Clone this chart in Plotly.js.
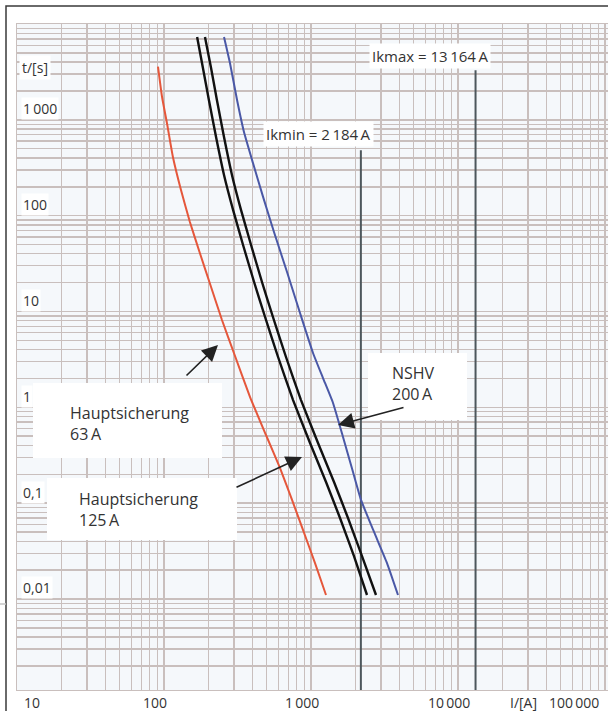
<!DOCTYPE html>
<html>
<head>
<meta charset="utf-8">
<script src="https://cdn.plot.ly/plotly-3.0.1.min.js"></script>
<style>
  html, body { margin: 0; padding: 0; background: #ffffff; }
  #chart { width: 608px; height: 711px; }
</style>
</head>
<body>
<div id="chart"></div>
<script>
// Time-current characteristics of the fuses (current in A, melting time in s)
const fuse63Current = [91, 97, 105, 115, 130.5, 150, 176, 209, 248, 299, 385, 494, 615, 743, 882, 1065, 1265];
const fuse63Time    = [3600, 1730, 905, 409, 185, 86, 40, 18, 8.15, 3.69, 1.28, 0.514, 0.233, 0.108, 0.0525, 0.0237, 0.011];

const fuse125aCurrent = [168, 184, 202, 226, 256, 295, 345, 410, 487, 597, 755, 985, 1265, 1575, 1961, 2404];
const fuse125aTime    = [7320, 3475, 1610, 662, 266, 115, 49.4, 20.3, 8.76, 3.35, 1.19, 0.424, 0.166, 0.070, 0.028, 0.011];

const fuse125bCurrent = [190, 209, 229, 256, 290, 334, 391, 464, 551, 676, 855, 1116, 1434, 1785, 2223, 2768];
const fuse125bTime    = [7320, 3475, 1610, 662, 266, 115, 49.4, 20.3, 8.76, 3.35, 1.19, 0.424, 0.166, 0.070, 0.028, 0.011];

const nshvCurrent = [256, 281, 314, 350, 403, 472, 560, 687, 842, 1032, 1207, 1412, 1651, 1931, 2188, 2684, 3289, 3907];
const nshvTime    = [7320, 3917, 1610, 747, 354, 157, 67.5, 25.8, 9.64, 3.69, 2.02, 1.11, 0.49, 0.211, 0.108, 0.05, 0.0237, 0.011];

// Short-circuit currents and the time where their marker lines begin
const shortCircuitNames = ['Ikmin', 'Ikmax'];
const shortCircuitCurrent = [2184, 13164];
const shortCircuitLineTop = [480, 3300];

// Axis labels
const xTickValues = [10, 100, 1000, 10000, 100000];
const xTickText = ['10', '100', '1\u2009000', '10\u2009000', '100\u2009000'];
const yTickValues = [1000, 100, 10, 1, 0.1, 0.01];
const yTickText = ['1\u2009000', '100', '10', '1', '0,1', '0,01'];

// Plot area geometry (px)
const L = 17, T = 24, W = 591, H = 666;
const px = x => (x - L) / W;
const py = y => (T + H - y) / H;

const FONT = 'Open Sans, Noto Sans, sans-serif';
const TXT = '#333333';
const GRID = '#c9bfbd';

function fmt(n) {
  return String(n).replace(/\B(?=(\d{3})+(?!\d))/g, '\u2009');
}

const traces = [];
shortCircuitCurrent.forEach((c, i) => {
  traces.push({
    x: [c, c], y: [shortCircuitLineTop[i], 0.0005],
    mode: 'lines', line: { color: '#4d575c', width: 2 },
    hoverinfo: 'skip', showlegend: false
  });
});
const curveLine = (color, width) => ({ color: color, width: width, shape: 'spline', smoothing: 0.4 });
traces.push({ x: fuse63Current, y: fuse63Time, mode: 'lines', line: curveLine('#e5573b', 2), showlegend: false });
traces.push({ x: fuse125aCurrent, y: fuse125aTime, mode: 'lines', line: curveLine('#111111', 2.4), showlegend: false });
traces.push({ x: fuse125bCurrent, y: fuse125bTime, mode: 'lines', line: curveLine('#111111', 2.4), showlegend: false });
traces.push({ x: nshvCurrent, y: nshvTime, mode: 'lines', line: curveLine('#4a58a6', 2), showlegend: false });

const annotations = [];

// x tick labels
xTickValues.forEach((v, i) => {
  const last = i === xTickValues.length - 1;
  annotations.push({
    x: Math.log10(v), xref: 'x', y: 0, yref: 'paper',
    text: xTickText[i], showarrow: false,
    xanchor: i === 0 ? 'left' : (last ? 'right' : 'center'),
    xshift: i === 0 ? 5 : (last ? -4 : -9),
    yanchor: 'middle', yshift: -12,
    font: { family: FONT, size: 14, color: TXT }
  });
});
annotations.push({ x: px(523), xref: 'paper', xanchor: 'center', y: 0, yref: 'paper', yanchor: 'middle', yshift: -12,
  text: 'I/[A]', showarrow: false, font: { family: FONT, size: 14, color: TXT } });

// y tick labels
yTickValues.forEach((v, i) => {
  annotations.push({
    x: px(21), xref: 'paper', xanchor: 'left',
    y: Math.log10(v), yref: 'y', yanchor: 'middle', yshift: 11,
    text: yTickText[i], showarrow: false, bgcolor: '#ffffff', borderpad: 1,
    font: { family: FONT, size: 14, color: TXT }
  });
});
annotations.push({ x: px(19), xref: 'paper', xanchor: 'left', y: py(67), yref: 'paper', yanchor: 'middle',
  text: 't/[s]', showarrow: false, bgcolor: '#ffffff', borderpad: 2,
  font: { family: FONT, size: 14, color: TXT } });

// short-circuit labels
const ikLabelPos = [[318, 134], [430, 56]];
shortCircuitCurrent.forEach((c, i) => {
  annotations.push({
    x: px(ikLabelPos[i][0]), xref: 'paper', xanchor: 'center',
    y: py(ikLabelPos[i][1]), yref: 'paper', yanchor: 'middle',
    text: shortCircuitNames[i] + ' = ' + fmt(c) + '\u2009A', showarrow: false,
    bgcolor: '#ffffff', borderpad: 2,
    font: { family: FONT, size: 15, color: TXT }
  });
});

// curve labels
const curveLabels = [
  { text: 'Hauptsicherung<br>63\u2009A', x: 68, y: 423 },
  { text: 'Hauptsicherung<br>125\u2009A', x: 77, y: 509 },
  { text: 'NSHV<br>200\u2009A', x: 390, y: 383 }
];
curveLabels.forEach(c => {
  annotations.push({ x: px(c.x), xref: 'paper', xanchor: 'left', y: py(c.y), yref: 'paper', yanchor: 'middle',
    align: 'left', text: c.text, showarrow: false, font: { family: FONT, size: 16, color: TXT } });
});

// arrows pointing at the curves
const arrows = [
  { tip: [218, 345], tail: [185, 377] },
  { tip: [302, 457], tail: [235, 488] },
  { tip: [338, 425], tail: [405, 407] }
];
arrows.forEach(a => {
  annotations.push({ x: px(a.tip[0]), xref: 'paper', y: py(a.tip[1]), yref: 'paper', text: '',
    showarrow: true, arrowhead: 2, arrowsize: 2, arrowwidth: 1.6, arrowcolor: '#222222',
    ax: a.tail[0] - a.tip[0], ay: a.tail[1] - a.tip[1] });
});

const shapes = [
  // white label panels
  { type: 'rect', xref: 'paper', yref: 'paper', x0: px(33), x1: px(222), y0: py(458), y1: py(383),
    fillcolor: '#ffffff', line: { width: 0 }, layer: 'above' },
  { type: 'rect', xref: 'paper', yref: 'paper', x0: px(47), x1: px(237), y0: py(540), y1: py(478),
    fillcolor: '#ffffff', line: { width: 0 }, layer: 'above' },
  { type: 'rect', xref: 'paper', yref: 'paper', x0: px(368), x1: px(467), y0: py(420), y1: py(353),
    fillcolor: '#ffffff', line: { width: 0 }, layer: 'above' },
  // outer frame
  { type: 'rect', xref: 'paper', yref: 'paper', x0: px(6), x1: px(640), y0: py(740), y1: py(6),
    fillcolor: 'rgba(0,0,0,0)', line: { color: '#3a3a3a', width: 1.5 }, layer: 'above' },
  { type: 'line', xref: 'paper', yref: 'paper', x0: px(0), x1: px(6), y0: py(604), y1: py(604),
    line: { color: '#c4c4c4', width: 1.5 }, layer: 'above' }
];

const axisCommon = {
  type: 'log', showticklabels: false, ticks: '',
  showgrid: true, gridcolor: GRID, gridwidth: 1.4,
  minor: { dtick: 'D1', showgrid: true, gridcolor: GRID, gridwidth: 1.4, ticks: '' },
  showline: true, linecolor: GRID, linewidth: 1.4, mirror: true,
  zeroline: false, fixedrange: true
};

const layout = {
  width: 608, height: 711,
  margin: { l: L, r: 608 - L - W, t: T, b: 711 - T - H, pad: 0 },
  paper_bgcolor: '#ffffff', plot_bgcolor: '#f5f8fb',
  showlegend: false,
  xaxis: Object.assign({}, axisCommon, { range: [1, 1 + W / 147], dtick: 1 }),
  yaxis: Object.assign({}, axisCommon, { range: [-2.95, 4], dtick: 1 }),
  annotations: annotations,
  shapes: shapes
};

Plotly.newPlot('chart', traces, layout, { displayModeBar: false, staticPlot: true });
</script>
</body>
</html>
